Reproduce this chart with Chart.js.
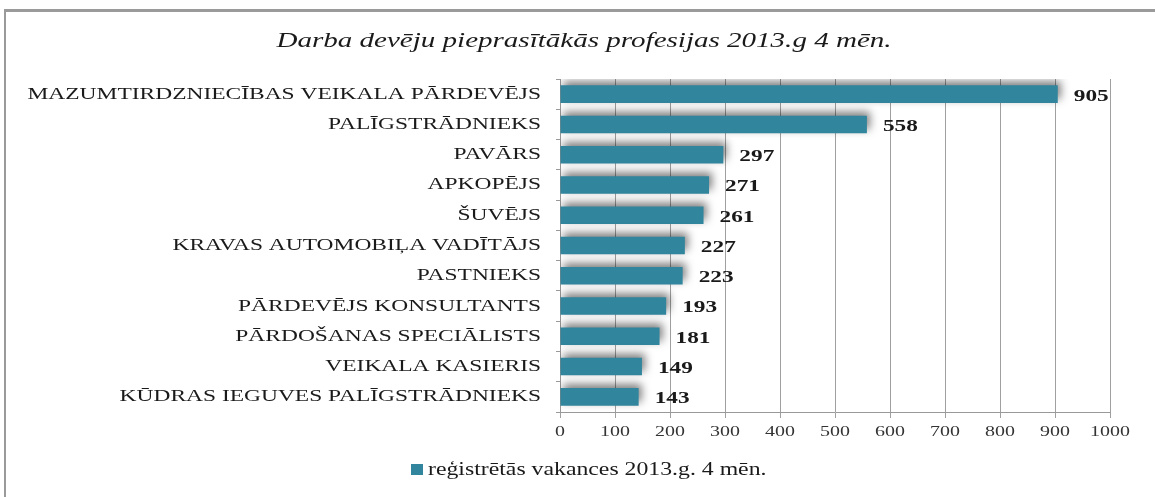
<!DOCTYPE html>
<html><head><meta charset="utf-8">
<script src="https://cdn.jsdelivr.net/npm/chart.js@4/dist/chart.umd.min.js"></script>
<style>
html,body{margin:0;padding:0;background:#fff;overflow:hidden}
#wrap{position:relative;width:1155px;height:497px}
#frame{position:absolute;left:4px;top:9px;width:1200px;height:600px;border-top:3px solid #9a9a9a;border-left:2px solid #9a9a9a}
canvas{position:absolute;left:0;top:0}
</style></head><body>
<div id="wrap"><div id="frame"></div><canvas id="c" width="1155" height="497"></canvas></div>
<script>
const TITLE = 'Darba devēju pieprasītākās profesijas 2013.g 4 mēn.';
const SERIES_LABEL = 'reģistrētās vakances 2013.g. 4 mēn.';
const categories = [
  'MAZUMTIRDZNIECĪBAS VEIKALA PĀRDEVĒJS',
  'PALĪGSTRĀDNIEKS',
  'PAVĀRS',
  'APKOPĒJS',
  'ŠUVĒJS',
  'KRAVAS AUTOMOBIĻA VADĪTĀJS',
  'PASTNIEKS',
  'PĀRDEVĒJS KONSULTANTS',
  'PĀRDOŠANAS SPECIĀLISTS',
  'VEIKALA KASIERIS',
  'KŪDRAS IEGUVES PALĪGSTRĀDNIEKS'
];
const values = [905, 558, 297, 271, 261, 227, 223, 193, 181, 149, 143];
const xTicks = [0, 100, 200, 300, 400, 500, 600, 700, 800, 900, 1000];

const BAR_COLOR = '#31859C';
const TEXT_COLOR = '#1a1a1a';
const SERIF = '"Liberation Serif", "Times New Roman", serif';

// the reference renders its text horizontally stretched
function stretchedText(ctx, text, x, y, align, sx) {
  ctx.save();
  ctx.translate(x, y);
  ctx.scale(sx, 1);
  ctx.textAlign = align;
  ctx.fillText(text, 0, 0);
  ctx.restore();
}

const deco = {
  id: 'deco',
  beforeDatasetsDraw(chart) {
    const ctx = chart.ctx;
    ctx.save();
    ctx.shadowColor = 'rgba(0,0,0,0.5)';
    ctx.shadowBlur = 8;
    ctx.shadowOffsetX = 3;
    ctx.shadowOffsetY = -4;
  },
  afterDatasetsDraw(chart) {
    chart.ctx.restore();
  },
  afterDraw(chart) {
    const ctx = chart.ctx;
    const ca = chart.chartArea;
    const ys = chart.scales.y;
    const xs = chart.scales.x;
    ctx.save();
    ctx.fillStyle = TEXT_COLOR;
    ctx.textBaseline = 'middle';
    // title
    ctx.font = 'italic 22px ' + SERIF;
    stretchedText(ctx, TITLE, 584, 41, 'center', 1.32);
    // category labels
    ctx.font = '17px ' + SERIF;
    categories.forEach((c, i) => stretchedText(ctx, c, ca.left - 19, ys.getPixelForValue(i), 'right', 1.38));
    // value labels
    const meta = chart.getDatasetMeta(0);
    ctx.font = 'bold 17px ' + SERIF;
    meta.data.forEach((bar, i) => stretchedText(ctx, String(values[i]), bar.x + 16, bar.y + 2, 'left', 1.37));
    // x tick labels
    ctx.font = '15px ' + SERIF;
    ctx.fillStyle = '#333';
    xTicks.forEach(v => stretchedText(ctx, String(v), xs.getPixelForValue(v), ca.bottom + 20, 'center', 1.33));
    // legend
    ctx.fillStyle = BAR_COLOR;
    ctx.fillRect(411, 464, 12, 11);
    ctx.fillStyle = TEXT_COLOR;
    ctx.font = '18px ' + SERIF;
    stretchedText(ctx, SERIES_LABEL, 428, 470, 'left', 1.32);
    ctx.restore();
  }
};

new Chart(document.getElementById('c'), {
  type: 'bar',
  data: {
    labels: categories,
    datasets: [{
      label: SERIES_LABEL,
      data: values,
      backgroundColor: BAR_COLOR,
      borderWidth: 0,
      barPercentage: 0.58,
      categoryPercentage: 1.0
    }]
  },
  options: {
    indexAxis: 'y',
    responsive: false,
    animation: false,
    layout: { padding: { left: 0, right: 45, top: 79, bottom: 55 } },
    plugins: {
      legend: { display: false },
      title: { display: false },
      tooltip: { enabled: false }
    },
    scales: {
      x: {
        min: 0, max: 1000,
        ticks: { stepSize: 100, display: false },
        grid: { color: '#a0a0a0', tickLength: 6, lineWidth: 1 },
        border: { color: '#999' },
        afterFit(s) { s.height = 30; }
      },
      y: {
        ticks: { display: false },
        grid: { drawOnChartArea: false, drawTicks: true, tickLength: 4, color: '#999' },
        border: { color: '#999' },
        afterFit(s) { s.width = 560; }
      }
    }
  },
  plugins: [deco]
});
</script>
</body></html>
